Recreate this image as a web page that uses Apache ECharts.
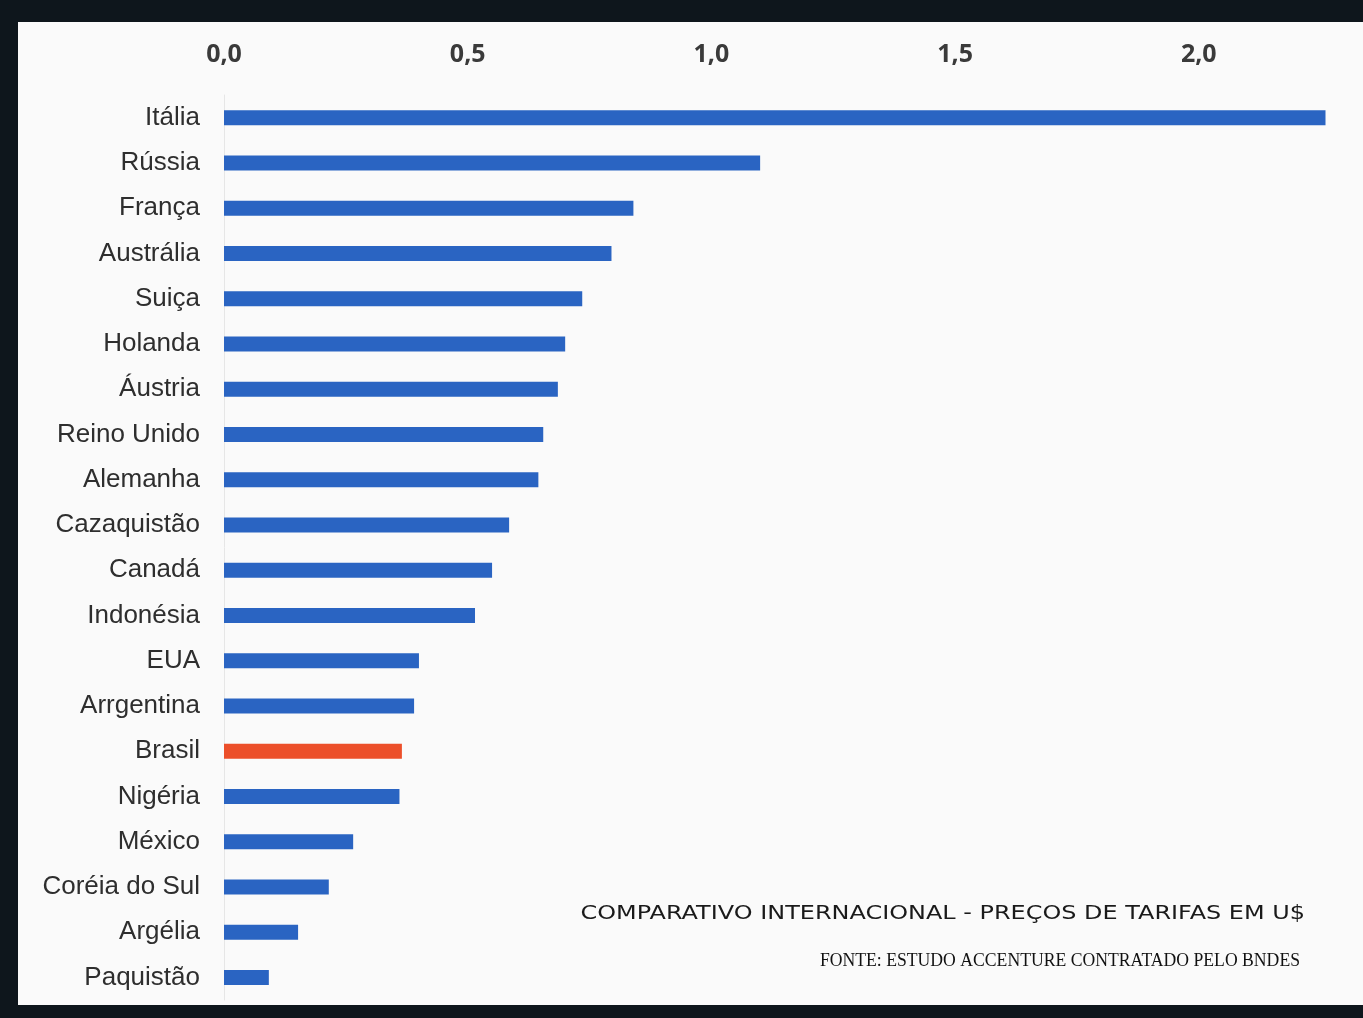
<!DOCTYPE html>
<html><head><meta charset="utf-8">
<script src="https://cdn.jsdelivr.net/npm/echarts@6/dist/echarts.min.js"></script>
<style>html,body{margin:0;padding:0;background:#0e161c;}#c{width:1363px;height:1018px;}</style>
</head><body><div id="c"></div>
<script>
const categories = ["Itália","Rússia","França","Austrália","Suiça","Holanda","Áustria","Reino Unido","Alemanha","Cazaquistão","Canadá","Indonésia","EUA","Arrgentina","Brasil","Nigéria","México","Coréia do Sul","Argélia","Paquistão"];
const values = [2.26,1.10,0.84,0.795,0.735,0.70,0.685,0.655,0.645,0.585,0.55,0.515,0.40,0.39,0.365,0.36,0.265,0.215,0.152,0.092];
const highlight = "Brasil";
const tickValues = [0,0.5,1.0,1.5,2.0];
const titleText = "COMPARATIVO INTERNACIONAL - PREÇOS DE TARIFAS EM U$";
const sourceText = "FONTE: ESTUDO ACCENTURE CONTRATADO PELO BNDES";

const chart = echarts.init(document.getElementById('c'));
chart.setOption({
  backgroundColor: '#0e161c',
  animation: false,
  graphic: [
    {type:'rect', z:-10, shape:{x:18,y:22,width:1345,height:983}, style:{fill:'#fafafa'}},
    {type:'text', z:10, x:1305, y:914, scaleX:1.26, style:{text:titleText, align:'right', verticalAlign:'middle',
      font:'normal 19px "DejaVu Sans"', fill:'#1a1a1a'}},
    {type:'text', z:10, x:1300, y:961, scaleX:0.93, style:{text:sourceText, align:'right', verticalAlign:'middle',
      font:'normal 19px "Liberation Serif"', fill:'#111'}}
  ],
  grid: {left: 224, right: 18, top: 95, bottom: 18, containLabel: false},
  xAxis: {
    type: 'value', position: 'top', min: 0, max: 2.3, interval: 0.5,
    axisLine:{show:false}, axisTick:{show:false}, splitLine:{show:false},
    axisLabel:{margin: 28, fontFamily:'Open Sans', fontWeight:'bold', fontSize:25, color:'#3a3a3a',
      formatter: v => tickValues.some(t => Math.abs(t - v) < 1e-9) ? v.toFixed(1).replace('.', ',') : ''}
  },
  yAxis: {
    type: 'category', data: categories, inverse: true,
    axisLine:{show:true, lineStyle:{color:'#e6e6e6', width:1}}, axisTick:{show:false},
    axisLabel:{margin: 24, fontFamily:'Liberation Sans', fontSize:26, color:'#2e2e2e', fontWeight:'normal'}
  },
  series: [{
    type: 'bar', barWidth: 15,
    data: values.map((v,i) => ({value: v, itemStyle:{color: categories[i] === highlight ? '#ec4f2a' : '#2a64c2'}}))
  }]
});
</script></body></html>
